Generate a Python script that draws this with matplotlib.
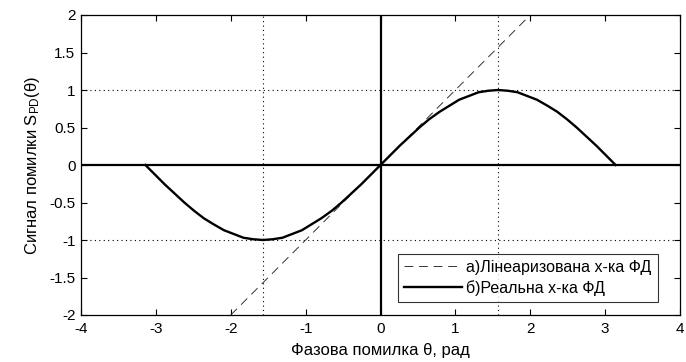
import matplotlib
matplotlib.use("Agg")
import matplotlib.pyplot as plt

plt.rcParams['font.family'] = ['Liberation Sans', 'DejaVu Sans']
plt.rcParams['mathtext.fontset'] = 'custom'
plt.rcParams['mathtext.rm'] = 'Liberation Sans'
plt.rcParams['mathtext.it'] = 'Liberation Sans'
plt.rcParams['axes.unicode_minus'] = False

theta = [-3.14, -3.01, -2.88, -2.75, -2.62, -2.49, -2.36, -2.23, -2.09, -1.96, -1.83,
         -1.70, -1.57, -1.44, -1.31, -1.18, -1.05, -0.92, -0.79, -0.65, -0.52, -0.39,
         -0.26, -0.13, 0.0, 0.13, 0.26, 0.39, 0.52, 0.65, 0.79, 0.92, 1.05, 1.18, 1.31,
         1.44, 1.57, 1.70, 1.83, 1.96, 2.09, 2.23, 2.36, 2.49, 2.62, 2.75, 2.88, 3.01,
         3.14]
s_real = [0.0, -0.13, -0.26, -0.38, -0.5, -0.61, -0.71, -0.79, -0.87, -0.92, -0.97,
          -0.99, -1.0, -0.99, -0.97, -0.92, -0.87, -0.79, -0.71, -0.61, -0.5, -0.38,
          -0.26, -0.13, 0.0, 0.13, 0.26, 0.38, 0.5, 0.61, 0.71, 0.79, 0.87, 0.92, 0.97,
          0.99, 1.0, 0.99, 0.97, 0.92, 0.87, 0.79, 0.71, 0.61, 0.5, 0.38, 0.26, 0.13,
          0.0]
# linearized characteristic
theta_lin = [-2.0, 2.0]
s_lin = [-2.0, 2.0]
# reference dotted lines
vref = [-1.57, 1.57]
href = [-1.0, 1.0]

xticks = [-4, -3, -2, -1, 0, 1, 2, 3, 4]
yticks = [-2, -1.5, -1, -0.5, 0, 0.5, 1, 1.5, 2]
ytick_labels = ['-2', '-1.5', '-1', '-0.5', '0', '0.5', '1', '1.5', '2']

fig = plt.figure(figsize=(6.86, 3.62), dpi=100)
ax = fig.add_axes([81/686, 1 - 315/362, (680-81)/686, (315-15)/362])

for v in vref:
    ax.axvline(v, color='black', lw=0.8, ls=(0, (1, 3)))
for h in href:
    ax.axhline(h, color='black', lw=0.8, ls=(0, (1, 3)))
ax.axhline(0, color='black', lw=1.6)
ax.axvline(0, color='black', lw=1.6)

l1, = ax.plot(theta_lin, s_lin, color='#333333', lw=0.7, ls=(0, (9, 6)),
              label='а)Лінеаризована х-ка ФД')
l2, = ax.plot(theta, s_real, color='black', lw=1.7, label='б)Реальна х-ка ФД')

ax.set_xlim(-4, 4)
ax.set_ylim(-2, 2)
ax.set_xticks(xticks)
ax.set_yticks(yticks)
ax.set_yticklabels(ytick_labels)
ax.tick_params(direction='in', top=True, right=True, length=4.5, width=0.8,
               labelsize=11)
ax.tick_params(axis='x', pad=5)
ax.tick_params(axis='y', pad=4)
for sp in ax.spines.values():
    sp.set_linewidth(0.9)

ax.set_xlabel('Фазова помилка θ, рад', fontsize=12, labelpad=5)
ax.set_ylabel(r'Сигнал помилки S$_{\mathrm{PD}}$(θ)', fontsize=12, labelpad=5)

leg = ax.legend(handles=[l1, l2], loc='lower right', fontsize=11.5,
                bbox_to_anchor=((658 - 81) / 599, (315 - 302) / 300),
                handlelength=3.6, frameon=True, fancybox=False,
                borderaxespad=0.0, handletextpad=0.3, labelspacing=0.3,
                borderpad=0.4)
leg.get_frame().set_edgecolor('black')
leg.get_frame().set_linewidth(0.8)

fig.savefig('out.png', dpi=100)
